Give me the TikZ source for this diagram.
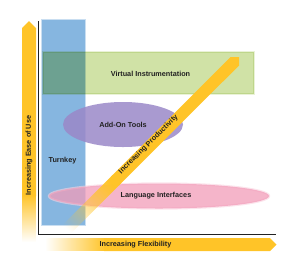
\documentclass[tikz,border=0pt]{standalone}
\usepackage{fontspec}
\setmainfont{Liberation Sans}
\usetikzlibrary{fadings}
\definecolor{chartYellow}{HTML}{FFC428}
\definecolor{chartBlue}{HTML}{86B6E0}
\definecolor{chartGreen}{HTML}{D0E2A6}
\definecolor{chartPurple}{HTML}{9A88C8}
\definecolor{chartPink}{HTML}{F29CB8}
\definecolor{chartInk}{HTML}{222222}

\begin{document}
\begin{tikzpicture}[x=0.03cm,y=-0.03cm]
  \tikzset{
    lbl/.style={
      font=\fontsize{6.2}{7}\selectfont\bfseries,
      text=chartInk,
      inner sep=1pt,
    },
    band/.style={fill=chartYellow},
    halo/.style={draw=#1!45, line width=2pt},
  }

  \path[use as bounding box] (0,0) rectangle (288,267);

  % Product regions (soft edges first)
  \draw[halo=chartBlue] (42,20) rectangle (85,225);
  \fill[chartBlue] (42,20) rectangle (85,225);
  \draw[halo=chartGreen, blend mode=multiply] (43,52) rectangle (254,94);
  \fill[chartGreen, blend mode=multiply] (43,52) rectangle (254,94);
  \fill[chartPurple, opacity=0.85] (123,124.5) ellipse [x radius=60, y radius=22.5];
  \draw[halo=chartPink, opacity=0.6] (159,196) ellipse [x radius=110, y radius=12.5];
  \fill[chartPink, opacity=0.75] (159,196) ellipse [x radius=110, y radius=12.5];

  % Axes
  \draw[chartInk, line width=0.8pt] (38,21) -- (38,234.5) -- (276,234.5);

  % Ease-of-use arrow
  \fill[band] (22,196) -- (22,28) -- (29,21) -- (36,28) -- (36,196) -- cycle;
  \fill[band, path fading=south] (22,242) rectangle (36,195);

  % Flexibility arrow
  \fill[band] (104,238) -- (270,238) -- (276.5,244.5) -- (270,251) -- (104,251) -- cycle;
  \fill[band, path fading=west] (45,238) rectangle (105,251);

  % Productivity arrow
  \fill[band] (110.9,176.7) -- (230.5,57) -- (239,57) -- (239,65.5) -- (119.3,185.1) -- cycle;
  \fill[band, path fading=west, fading angle=45]
    (57.8,229.8) -- (112.7,174.9) -- (121.1,183.3) -- (66.2,238.2) -- cycle;

  \node[lbl] (virt) at (150.5,74) {Virtual Instrumentation};
  \node[lbl] (addon) at (123,125) {Add-On Tools};
  \node[lbl] (lang) at (156,196) {Language Interfaces};
  \node[lbl] (turnkey) at (62.5,161) {Turnkey};
  \node[lbl, rotate=90] (easelbl) at (29,155.5) {Increasing Ease of Use};
  \node[lbl] (flexlbl) at (135.5,245) {Increasing Flexibility};
  \node[lbl, rotate=45] (prodlbl) at (148.5,144.5) {Increasing Productivity};
\end{tikzpicture}
\end{document}
